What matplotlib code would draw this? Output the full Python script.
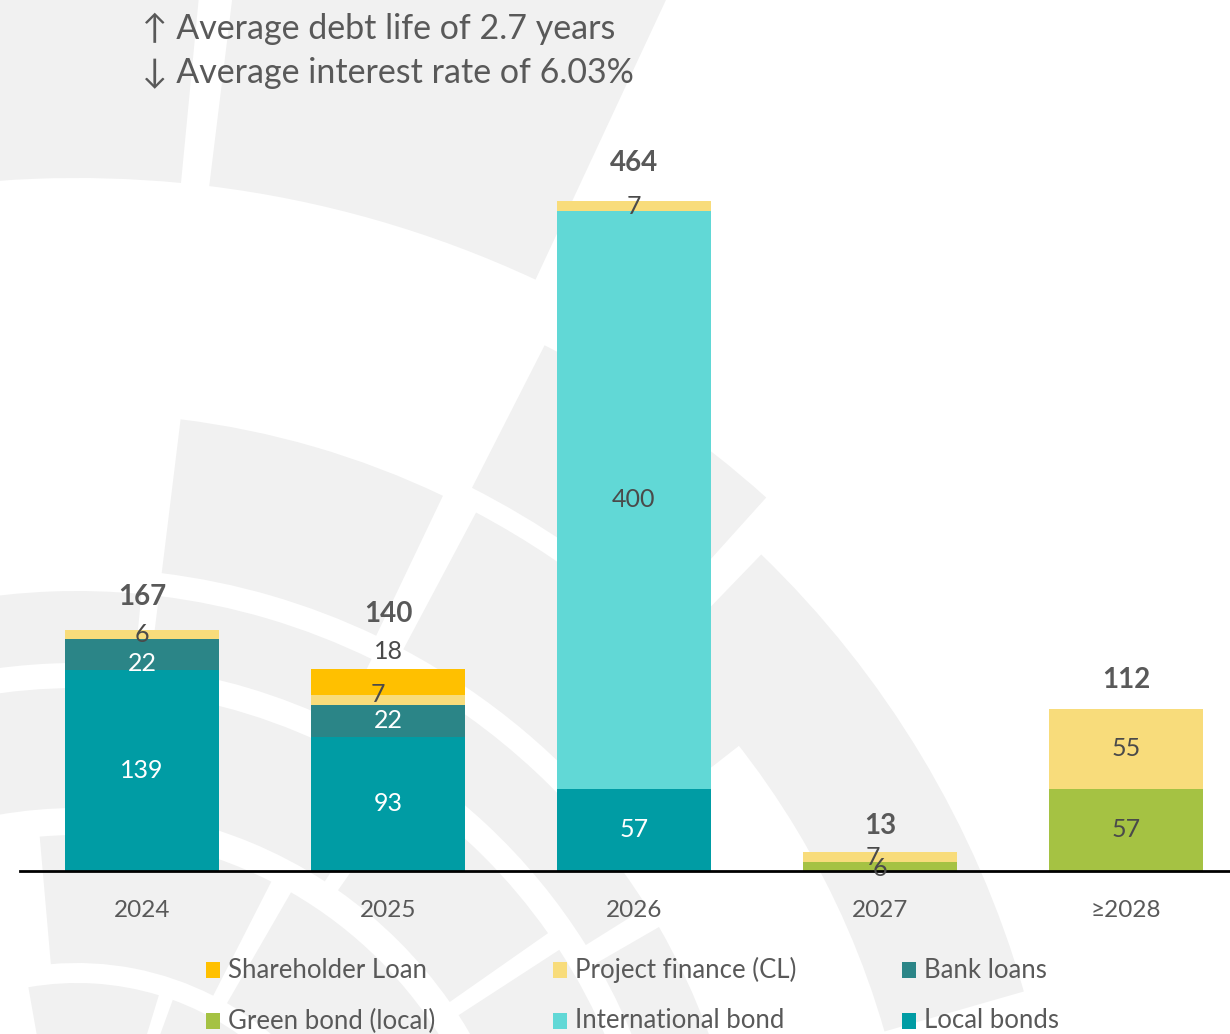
import matplotlib.pyplot as plt
from matplotlib.patches import Wedge, Rectangle

# debt maturity profile (values as shown on the chart)
years = ["2024", "2025", "2026", "2027", "\u22652028"]
local_bonds = [139, 93, 57, 0, 0]
bank_loans = [22, 22, 0, 0, 0]
international_bond = [0, 0, 400, 0, 0]
green_bond = [0, 0, 0, 6, 57]
project_finance = [6, 7, 7, 7, 55]
shareholder_loan = [0, 18, 0, 0, 0]

series = [
  ("Local bonds", local_bonds, "#009CA4", "white"),
  ("Bank loans", bank_loans, "#2B8587", "white"),
  ("International bond", international_bond, "#61D8D6", "#4a4a4a"),
  ("Green bond (local)", green_bond, "#A5C243", "#4a4a4a"),
  ("Project finance (CL)", project_finance, "#F8DC7B", "#4a4a4a"),
  ("Shareholder Loan", shareholder_loan, "#FFC000", "#4a4a4a"),
]

# small nudges for labels that Excel moved around
label_nudge = {
  ("Shareholder Loan", 1): (0.0, 21),
  ("Project finance (CL)", 1): (-0.04, 4),
  ("Bank loans", 0): (0.0, -6),
  ("Project finance (CL)", 3): (-0.03, 0),
  ("Green bond (local)", 3): (0.0, -1),
}
total_pad = [23, 38, 26, 18, 20]

FONT = ["Lato", "DejaVu Sans"]
GREY = "#595959"
plt.rcParams["font.family"] = FONT

W, H = 1230, 1034
fig = plt.figure(figsize=(W / 100, H / 100), dpi=100)

# faint watermark in the background (rings of blocks around a point below-left)
bg = fig.add_axes([0, 0, 1, 1], zorder=0)
bg.set_xlim(0, W)
bg.set_ylim(0, H)
bg.axis("off")
cx, cy = 77, -229
rings = [
  (1085, 1460, [(65, 83), (84.5, 100)]),
  (840, 985, [(16, 46)]),
  (870, 1030, [(48, 63)]),
  (695, 850, [(38, 62), (64.5, 83)]),
  (600, 672, [(10, 30), (32, 62), (64, 83), (84.5, 100)]),
  (455, 575, [(12, 33), (35, 55), (57, 78), (80, 100)]),
  (300, 428, [(30, 60), (63, 95)]),
  (150, 280, [(20, 70), (73, 100)]),
]
for r_in, r_out, blocks in rings:
  for a0, a1 in blocks:
    bg.add_patch(Wedge((cx, cy), r_out, a0, a1, width=r_out - r_in,
                       facecolor="#F1F1F1", edgecolor="none"))

ax = fig.add_axes([20 / W, 163 / H, 1 - 20 / W, 722 / H], zorder=1)
ax.patch.set_alpha(0)

x = list(range(len(years)))
bottom = [0] * len(years)
for name, vals, color, tcolor in series:
  ax.bar(x, vals, bottom=bottom, width=0.626, color=color, label=name, zorder=2)
  for i, v in enumerate(vals):
    if v == 0:
      continue
    dx, dy = label_nudge.get((name, i), (0, 0))
    ax.text(i + dx, bottom[i] + v / 2 + dy, str(v), ha="center", va="center",
            fontsize=18, color=tcolor, zorder=3)
  bottom = [b + v for b, v in zip(bottom, vals)]

for i, t in enumerate(bottom):
  ax.text(i, t + total_pad[i], str(t), ha="center", va="center",
          fontsize=20, fontweight="bold", color=GREY, zorder=3)

ax.set_xlim(-0.496, 4.423)
ax.set_ylim(0, 500)
for s in ["top", "right", "left"]:
  ax.spines[s].set_visible(False)
ax.spines["bottom"].set_linewidth(2)
ax.spines["bottom"].set_color("black")
ax.set_yticks([])
ax.set_xticks(x)
ax.set_xticklabels(years)
ax.tick_params(axis="x", length=0, pad=21, labelsize=17.5, labelcolor=GREY)

# headline
fig.text(142 / W, 1 - 29 / H, "\u2191 Average debt life of 2.7 years",
         fontsize=24.5, color=GREY, va="center", ha="left")
fig.text(142 / W, 1 - 73 / H, "\u2193 Average interest rate of 6.03%",
         fontsize=24.5, color=GREY, va="center", ha="left")

# legend laid out as in the source (3 columns x 2 rows)
legend_order = ["Shareholder Loan", "Project finance (CL)", "Bank loans",
                "Green bond (local)", "International bond", "Local bonds"]
colors = {name: c for name, _, c, _ in series}
col_x = [206, 553, 902]
row_y = [970, 1021]
for k, name in enumerate(legend_order):
  px, py = col_x[k % 3], row_y[k // 3]
  fig.patches.append(Rectangle((px / W, 1 - (py + 8) / H), 14 / W, 16 / H,
                               transform=fig.transFigure, facecolor=colors[name],
                               edgecolor="none", zorder=3))
  fig.text((px + 22) / W, 1 - py / H, name, fontsize=18.5, color=GREY,
           va="center", ha="left")

fig.savefig("out.png", dpi=100)
